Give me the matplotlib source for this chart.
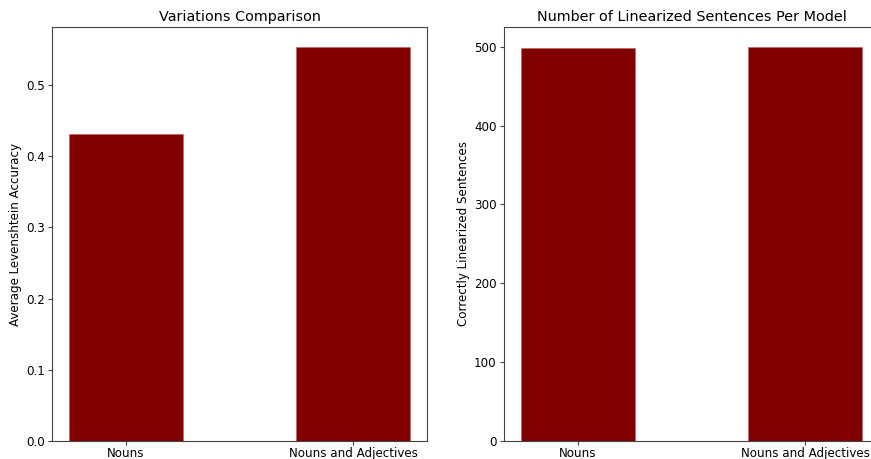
import matplotlib
matplotlib.use("Agg")
import matplotlib.pyplot as plt

categories = ["Nouns", "Nouns and Adjectives"]
avg_accuracy = [0.431, 0.5535]
correct_counts = [499, 500]

W, H = 871, 459
fig = plt.figure(figsize=(W / 100, H / 100), dpi=100)

ax1 = fig.add_axes([52 / W, 18 / H, 375 / W, 414 / H])
ax2 = fig.add_axes([504 / W, 18 / H, 375 / W, 414 / H])

title_size = 10.4
tick_size = 8.6

ax1.bar(categories, avg_accuracy, width=0.5, color="maroon", edgecolor="#c06060", linewidth=0.4)
ax1.set_title("Variations Comparison", fontsize=title_size, pad=4)
ax1.set_ylabel("Average Levenshtein Accuracy", fontsize=tick_size, labelpad=3)

ax2.bar(categories, correct_counts, width=0.5, color="maroon", edgecolor="#c06060", linewidth=0.4)
ax2.set_title("Number of Linearized Sentences Per Model", fontsize=title_size, pad=4)
ax2.set_ylabel("Correctly Linearized Sentences", fontsize=tick_size, labelpad=3)

for ax in (ax1, ax2):
    ax.tick_params(labelsize=tick_size, length=2.8, pad=2.5, color="#444444")
    ax.tick_params(axis="x", pad=1.2)
    for s in ax.spines.values():
        s.set_color("#444444")
        s.set_linewidth(0.8)

fig.savefig("out.png", dpi=100)
